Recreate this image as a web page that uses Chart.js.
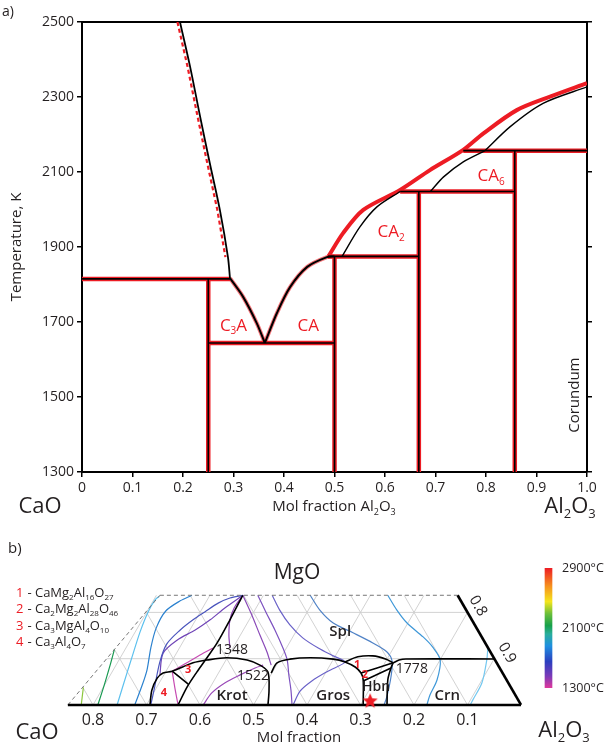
<!DOCTYPE html>
<html>
<head>
<meta charset="utf-8">
<script src="https://cdn.jsdelivr.net/npm/chart.js@4.4.1/dist/chart.umd.min.js"></script>
<style>
  html, body { margin: 0; padding: 0; background: #fff; }
  #wrap { position: relative; width: 610px; height: 744px; overflow: hidden; }
  canvas { position: absolute; }
</style>
</head>
<body>
<div id="wrap">
  <canvas id="phase" width="610" height="530" style="left:0;top:0"></canvas>
  <canvas id="ternary" width="610" height="204" style="left:0;top:540px"></canvas>
  <canvas id="cbar" width="72" height="150" style="left:538px;top:555px"></canvas>
</div>
<script>
const RED = "#ed1c24";
const INK = "#231f20";
const FONT = "'Open Sans', 'Noto Sans', sans-serif";

/* ---------------- panel a: CaO - Al2O3 phase diagram ---------------- */

const T_TICKS = [1300, 1500, 1700, 1900, 2100, 2300, 2500];

const LIQ_CAO_X = [0.194, 0.214, 0.234, 0.253, 0.273, 0.289, 0.293];
const LIQ_CAO_T = [2500, 2381, 2247, 2124, 1999, 1873, 1817];
const LIQ_CAO_RED_X = [0.189, 0.209, 0.229, 0.248, 0.268, 0.284];
const LIQ_CAO_RED_T = [2500, 2381, 2247, 2124, 1999, 1873];
const LIQ_C3A_X = [0.293, 0.319, 0.346, 0.362];
const LIQ_C3A_T = [1817, 1767, 1697, 1644];
const LIQ_CA_X = [0.362, 0.386, 0.412, 0.446, 0.485, 0.5];
const LIQ_CA_T = [1644, 1724, 1793, 1847, 1873, 1875];
const LIQ_CA2_X = [0.515, 0.550, 0.584, 0.630];
const LIQ_CA2_T = [1875, 1953, 2007, 2048];
const LIQ_CA6_X = [0.690, 0.716, 0.755, 0.798];
const LIQ_CA6_T = [2048, 2087, 2127, 2157];
const LIQ_CRN_X = [0.798, 0.848, 0.913, 1.0];
const LIQ_CRN_T = [2157, 2221, 2283, 2327];
const LIQ_RED_X = [0.488, 0.517, 0.557, 0.630, 0.689, 0.755, 0.795, 0.861, 0.927, 1.0];
const LIQ_RED_T = [1875, 1937, 1999, 2052, 2105, 2159, 2203, 2265, 2301, 2337];

// invariant (horizontal) lines and stoichiometric compounds (vertical lines)
const INV_T = [1815, 1644, 1875, 2048, 2157];
const INV_X0 = [0, 0.25, 0.487, 0.630, 0.755];
const INV_X1 = [0.293, 0.5, 0.667, 0.857, 1.0];
const COMP_X = [0.25, 0.5, 0.667, 0.857];
const COMP_TOP = [1815, 1875, 2048, 2157];

const PHASE_NAMES = ["C_3A", "CA", "CA_2", "CA_6"];
const PHASE_X = [0.300, 0.448, 0.612, 0.810];
const PHASE_T = [1690, 1690, 1940, 2089];

/* ---------------- panel b: CaO - MgO - Al2O3 section ---------------- */
// points are [CaO-axis position (c + m/2), MgO fraction m]

const TERN_TICKS = [0.8, 0.7, 0.6, 0.5, 0.4, 0.3, 0.2, 0.1];
const GRID_STEPS = [0.1, 0.2, 0.3, 0.4, 0.5, 0.6, 0.7, 0.8];
const GRID_LEVELS = [0.1, 0.2];
const M_TOP = 0.237;
const LEFT_X0 = 0.847;
const LEFT_X1 = 0.675;

const ISO_LGREEN = [[0.822, 0], [0.818, 0.038]];
const ISO_GREEN = [[0.791, 0], [0.779, 0.043], [0.768, 0.086], [0.760, 0.120]];
const ISO_SKY = [[0.755, 0], [0.736, 0.071], [0.727, 0.104], [0.712, 0.158], [0.697, 0.201], [0.684, 0.227], [0.676, 0.235]];
const ISO_BLUE = [[0.722, 0], [0.708, 0.043], [0.699, 0.076], [0.692, 0.123], [0.682, 0.166], [0.664, 0.203], [0.637, 0.225], [0.615, 0.237]];
const ISO_INDIGO = [[0.692, 0], [0.686, 0.032], [0.675, 0.093], [0.662, 0.132], [0.637, 0.162], [0.613, 0.184], [0.591, 0.201], [0.566, 0.220], [0.544, 0.231], [0.520, 0.237]];
const ISO_VIOLET = [[0.675, 0.065], [0.669, 0.112], [0.643, 0.140], [0.609, 0.162], [0.581, 0.184], [0.553, 0.210], [0.520, 0.237]];
const ISO_MAG_A = [[0.652, 0.073], [0.647, 0.037], [0.641, 0]];
const ISO_MAG_B = [[0.652, 0.073], [0.628, 0.089], [0.600, 0.108], [0.576, 0.123]];
const ISO_PURPLE_A = [[0.520, 0.237], [0.536, 0.210], [0.544, 0.184], [0.546, 0.151], [0.544, 0.123]];
const ISO_PURPLE_K = [[0.594, 0], [0.578, 0.026], [0.553, 0.048], [0.525, 0.065], [0.497, 0.080], [0.482, 0.086]];
const ISO_PURPLE_B = [[0.520, 0.237], [0.503, 0.194], [0.488, 0.151], [0.475, 0.115], [0.467, 0.086]];
const ISO_PURPLE_C = [[0.492, 0.237], [0.477, 0.201], [0.460, 0.162], [0.445, 0.123], [0.437, 0.097], [0.434, 0.065], [0.430, 0.032], [0.428, 0]];
const ISO_BVIOLET = [[0.465, 0.237], [0.451, 0.205], [0.432, 0.173], [0.408, 0.145], [0.379, 0.123], [0.351, 0.106], [0.329, 0.093], [0.361, 0.073], [0.391, 0.052], [0.413, 0.030], [0.426, 0]];
const ISO_STEEL = [[0.394, 0.237], [0.376, 0.205], [0.351, 0.177], [0.314, 0.156], [0.277, 0.134], [0.251, 0.115], [0.241, 0.095], [0.243, 0.061], [0.251, 0.017], [0.256, 0]];
const ISO_LBLUE = [[0.249, 0.237], [0.232, 0.205], [0.213, 0.177], [0.183, 0.147], [0.165, 0.125], [0.151, 0.097], [0.157, 0.054], [0.170, 0.022], [0.176, 0]];
const ISO_CYAN = [[0.062, 0.123], [0.064, 0.097], [0.073, 0.048], [0.090, 0.011], [0.095, 0]];

const B_KROT = [[0.6935, 0], [0.690, 0.032], [0.680, 0.058], [0.669, 0.069], [0.652, 0.073], [0.613, 0.091], [0.587, 0.097], [0.550, 0.102], [0.512, 0.097], [0.488, 0.086], [0.473, 0.071], [0.471, 0.032], [0.473, 0]];
const B_STEEP = [[0.641, 0], [0.624, 0.039], [0.606, 0.071], [0.587, 0.102], [0.568, 0.134], [0.544, 0.184], [0.520, 0.237]];
const B_C3 = [[0.652, 0.073], [0.622, 0.045]];
const B_GROS = [[0.467, 0.069], [0.456, 0.091], [0.432, 0.099], [0.394, 0.102], [0.351, 0.099], [0.329, 0.093], [0.310, 0.082], [0.299, 0.069], [0.295, 0.054], [0.295, 0]];
const B_R1 = [[0.329, 0.093], [0.305, 0.104], [0.277, 0.106], [0.252, 0.099], [0.239, 0.091]];
const B_12 = [[0.299, 0.069], [0.239, 0.091]];
const B_2H = [[0.295, 0.052], [0.243, 0.080]];
const B_HBN = [[0.239, 0.091], [0.243, 0.080], [0.249, 0.054], [0.2505, 0]];
const B_1778 = [[0.239, 0.091], [0.228, 0.097], [0.215, 0.0994], [0.0497, 0.0994]];

const STAR = [[0.282, 0.008]];

const CBAR_MIN = 1300;
const CBAR_MAX = 2900;
const CBAR_TICKS = [1300, 2100, 2900];

/* ---------------- helpers ---------------- */

function xyLine(xs, ys, color, width, order, extra) {
  return Object.assign({
    data: xs.map((x, i) => ({ x, y: ys[i] })),
    showLine: true, borderColor: color, borderWidth: width,
    pointRadius: 0, pointHoverRadius: 0, fill: false, tension: 0, order
  }, extra || {});
}

function pairLine(pts, color, width, order, extra) {
  return xyLine(pts.map(p => p[0]), pts.map(p => p[1]), color, width, order, extra);
}

function richParts(str) {
  const parts = [];
  str.split(/(_\d+)/).forEach(s => {
    if (!s) return;
    if (s[0] === "_") parts.push([s.slice(1), true]);
    else parts.push([s, false]);
  });
  return parts;
}

function drawRich(ctx, item, x, y) {
  const size = item.size || 14;
  const subSize = Math.round(size * 0.6);
  const weight = item.weight || "normal";
  const font = s => `${weight} ${s}px ${FONT}`;
  const parts = richParts(item.t);
  let w = 0;
  parts.forEach(([s, sub]) => { ctx.font = font(sub ? subSize : size); w += ctx.measureText(s).width; });
  ctx.save();
  ctx.translate(x, y);
  if (item.rot) ctx.rotate(item.rot * Math.PI / 180);
  const align = item.align || "center";
  let cx = align === "left" ? 0 : align === "right" ? -w : -w / 2;
  ctx.textAlign = "left";
  ctx.textBaseline = "middle";
  ctx.fillStyle = item.color || INK;
  parts.forEach(([s, sub]) => {
    ctx.font = font(sub ? subSize : size);
    ctx.fillText(s, cx, sub ? size * 0.34 : 0);
    cx += ctx.measureText(s).width;
  });
  ctx.restore();
}

// items with data:true are placed through the chart scales, the rest in canvas pixels
function textPlugin(id, items) {
  return {
    id,
    afterDraw(chart) {
      const { ctx, scales } = chart;
      items.forEach(it => {
        const x = it.data ? scales.x.getPixelForValue(it.x) : it.x;
        const y = it.data ? scales.y.getPixelForValue(it.y) : it.y;
        drawRich(ctx, it, x, y);
      });
    }
  };
}

function starImage(r, color) {
  const c = document.createElement("canvas");
  c.width = c.height = 2 * r + 2;
  const g = c.getContext("2d");
  g.fillStyle = color;
  g.beginPath();
  for (let i = 0; i < 10; i++) {
    const a = -Math.PI / 2 + i * Math.PI / 5;
    const rr = i % 2 ? r * 0.45 : r;
    g.lineTo(r + 1 + rr * Math.cos(a), r + 1 + rr * Math.sin(a));
  }
  g.closePath();
  g.fill();
  return c;
}

const tickFont = size => ({ family: FONT, size });
const fixedTicks = list => axis => { axis.ticks = list.map(v => ({ value: v })); };

/* ---------------- chart a ---------------- */

const phaseSets = [];
INV_T.forEach((t, i) => {
  phaseSets.push(xyLine([INV_X0[i], INV_X1[i]], [t, t], RED, 4.5, 3));
  phaseSets.push(xyLine([INV_X0[i], INV_X1[i]], [t, t], "#000", 1.6, 1));
});
COMP_X.forEach((x, i) => {
  phaseSets.push(xyLine([x, x], [1300, COMP_TOP[i]], RED, 4.5, 3));
  phaseSets.push(xyLine([x, x], [1300, COMP_TOP[i]], "#000", 1.6, 1));
});
phaseSets.push(xyLine(LIQ_CAO_RED_X, LIQ_CAO_RED_T, RED, 2.2, 2, { borderDash: [4, 3] }));
phaseSets.push(xyLine(LIQ_CAO_X, LIQ_CAO_T, "#000", 1.8, 1, { tension: 0.3 }));
phaseSets.push(xyLine(LIQ_C3A_X, LIQ_C3A_T, "rgba(237,28,36,0.6)", 4, 2, { tension: 0.3 }));
phaseSets.push(xyLine(LIQ_C3A_X, LIQ_C3A_T, "#000", 2, 1, { tension: 0.3 }));
phaseSets.push(xyLine(LIQ_CA_X, LIQ_CA_T, "rgba(237,28,36,0.6)", 4, 2, { tension: 0.3 }));
phaseSets.push(xyLine(LIQ_CA_X, LIQ_CA_T, "#000", 2, 1, { tension: 0.3 }));
phaseSets.push(xyLine(LIQ_RED_X, LIQ_RED_T, RED, 4, 2, { tension: 0.3 }));
phaseSets.push(xyLine(LIQ_CA2_X, LIQ_CA2_T, "#000", 1.4, 1, { tension: 0.3 }));
phaseSets.push(xyLine(LIQ_CA6_X, LIQ_CA6_T, "#000", 1.4, 1, { tension: 0.3 }));
phaseSets.push(xyLine(LIQ_CRN_X, LIQ_CRN_T, "#000", 1.4, 1, { tension: 0.3 }));

const phaseText = PHASE_NAMES.map((t, i) => ({ t, x: PHASE_X[i], y: PHASE_T[i], data: true, color: RED, size: 17 }))
  .concat([
    { t: "Corundum", x: 0.976, y: 1505, data: true, rot: -90, size: 15 },
    { t: "a)", x: 2, y: 12, align: "left", size: 14 },
    { t: "Temperature, K", x: 17, y: 247, rot: -90, size: 15 },
    { t: "CaO", x: 40, y: 507, size: 22 },
    { t: "Mol fraction Al_2O_3", x: 334, y: 507, size: 15 },
    { t: "Al_2O_3", x: 570, y: 507, size: 22 }
  ]);

const axisGrid = { drawOnChartArea: false, drawTicks: true, tickLength: 5, color: "#000", lineWidth: 1.5 };
const axisBorder = { color: "#000", width: 2 };

new Chart(document.getElementById("phase"), {
  type: "scatter",
  data: { datasets: phaseSets },
  options: {
    responsive: false, animation: false, events: [],
    layout: { padding: { top: 22, left: 0, right: 0, bottom: 0 } },
    plugins: { legend: { display: false }, tooltip: { enabled: false } },
    scales: {
      x: {
        type: "linear", min: 0, max: 1,
        ticks: { stepSize: 0.1, padding: 3, color: INK, font: tickFont(14), callback: v => (v === 0 ? "0" : Number(v).toFixed(1)) },
        grid: axisGrid, border: axisBorder,
        afterFit: s => { s.height = 58; }
      },
      x2: {
        type: "linear", position: "top", min: 0, max: 1,
        ticks: { display: false }, grid: { display: false, drawTicks: false }, border: axisBorder,
        afterFit: s => { s.height = 0; }
      },
      y: {
        type: "linear", min: 1300, max: 2500,
        afterBuildTicks: fixedTicks(T_TICKS),
        ticks: { padding: 3, color: INK, font: tickFont(14), callback: v => String(v) },
        grid: axisGrid, border: axisBorder,
        afterFit: s => { s.width = 82; }
      },
      y2: {
        type: "linear", position: "right", min: 1300, max: 2500,
        afterBuildTicks: fixedTicks(T_TICKS),
        ticks: { display: false },
        grid: axisGrid, border: axisBorder,
        afterFit: s => { s.width = 23; }
      }
    }
  },
  plugins: [textPlugin("phaseText", phaseText)]
});

/* ---------------- chart b ---------------- */

const leftX = m => LEFT_X0 - m * (LEFT_X0 - LEFT_X1) / M_TOP;
const slopeL = (LEFT_X0 - LEFT_X1) / M_TOP;

const ternSets = [];
const GRID_COLOR = "#cdcdcd";
GRID_STEPS.forEach(v => {
  // constant CaO lines, running up towards MgO
  const mEnd = Math.min(M_TOP, (LEFT_X0 - v) / (slopeL + 0.5));
  ternSets.push(xyLine([v, v + mEnd / 2], [0, mEnd], GRID_COLOR, 0.9, 6));
  // constant Al2O3 lines, running up to the Al2O3 - MgO edge
  const mEnd2 = Math.min(M_TOP, v);
  ternSets.push(xyLine([v, v - mEnd2 / 2], [0, mEnd2], GRID_COLOR, 0.9, 6));
});
GRID_LEVELS.forEach(m => {
  ternSets.push(xyLine([leftX(m), m / 2], [m, m], GRID_COLOR, 0.9, 6));
});

const ISOTHERMS = [
  [ISO_LGREEN, "#8dc63f"], [ISO_GREEN, "#1a9a52"], [ISO_SKY, "#5cc0ee"], [ISO_BLUE, "#2c82cf"],
  [ISO_INDIGO, "#4a55bd"], [ISO_VIOLET, "#7045b7"], [ISO_MAG_A, "#c64bb2"], [ISO_MAG_B, "#c64bb2"],
  [ISO_PURPLE_A, "#8f45b6"], [ISO_PURPLE_K, "#9a4ab8"], [ISO_PURPLE_B, "#8a4ab8"], [ISO_PURPLE_C, "#7d52c0"],
  [ISO_BVIOLET, "#6a62c8"], [ISO_STEEL, "#4f82c6"], [ISO_LBLUE, "#3f98d8"], [ISO_CYAN, "#74c8f0"]
];
ISOTHERMS.forEach(([pts, color]) => ternSets.push(pairLine(pts, color, 1.2, 4, { tension: 0.3 })));

[B_KROT, B_STEEP, B_C3, B_GROS, B_R1, B_12, B_2H, B_HBN, B_1778].forEach(pts =>
  ternSets.push(pairLine(pts, "#000", 1.6, 2, { tension: 0.3 })));

ternSets.push(xyLine([LEFT_X0, 0], [0, 0], "#000", 2.6, 1));
ternSets.push(xyLine([0, M_TOP / 2], [0, M_TOP], "#000", 2.6, 1));
ternSets.push(xyLine([LEFT_X1, M_TOP / 2], [M_TOP, M_TOP], "#777", 1, 1, { borderDash: [4, 3] }));
ternSets.push(xyLine([LEFT_X0, LEFT_X1], [0, M_TOP], "#777", 1, 1, { borderDash: [4, 3] }));
ternSets.push({
  data: STAR.map(p => ({ x: p[0], y: p[1] })), showLine: false,
  pointStyle: starImage(8, RED), pointRadius: 8, pointHoverRadius: 8, order: 0
});

const ternText = [
  { t: "b)", x: 8, y: 9, align: "left", size: 15 },
  { t: "MgO", x: 297, y: 33, size: 21 },
  { t: "1", x: 16, y: 53, align: "left", size: 13, color: RED },
  { t: "2", x: 16, y: 69, align: "left", size: 13, color: RED },
  { t: "3", x: 16, y: 86, align: "left", size: 13, color: RED },
  { t: "4", x: 16, y: 102, align: "left", size: 13, color: RED },
  { t: " - CaMg_2Al_16O_27", x: 24, y: 53, align: "left", size: 13 },
  { t: " - Ca_2Mg_2Al_28O_46", x: 24, y: 69, align: "left", size: 13 },
  { t: " - Ca_3MgAl_4O_10", x: 24, y: 86, align: "left", size: 13 },
  { t: " - Ca_3Al_4O_7", x: 24, y: 102, align: "left", size: 13 },
  { t: "0.8", x: 478, y: 66, rot: 60, size: 15 },
  { t: "0.9", x: 507, y: 113, rot: 60, size: 15 },
  { t: "CaO", x: 37, y: 193, size: 22 },
  { t: "Mol fraction", x: 299, y: 198, size: 15 },
  { t: "Al_2O_3", x: 564, y: 191, size: 22 },
  { t: "Spl", x: 0.338, y: 0.158, data: true, size: 15, weight: 600 },
  { t: "Krot", x: 0.540, y: 0.021, data: true, size: 15, weight: 600 },
  { t: "Gros", x: 0.351, y: 0.021, data: true, size: 15, weight: 600 },
  { t: "Hbn", x: 0.271, y: 0.039, data: true, size: 14, weight: 600 },
  { t: "Crn", x: 0.138, y: 0.019, data: true, size: 15, weight: 600 },
  { t: "1348", x: 0.540, y: 0.119, data: true, size: 14 },
  { t: "1522", x: 0.501, y: 0.063, data: true, size: 14 },
  { t: "1778", x: 0.204, y: 0.078, data: true, size: 14 },
  { t: "1", x: 0.3065, y: 0.086, data: true, size: 11, weight: "bold", color: RED },
  { t: "2", x: 0.2916, y: 0.065, data: true, size: 11, weight: "bold", color: RED },
  { t: "3", x: 0.6224, y: 0.0756, data: true, size: 11, weight: "bold", color: RED },
  { t: "4", x: 0.6673, y: 0.0259, data: true, size: 11, weight: "bold", color: RED }
];

new Chart(document.getElementById("ternary"), {
  type: "scatter",
  data: { datasets: ternSets },
  options: {
    responsive: false, animation: false, events: [],
    layout: { padding: { top: 49.25, left: 0, right: 80, bottom: 0 } },
    plugins: { legend: { display: false }, tooltip: { enabled: false } },
    scales: {
      x: {
        type: "linear", reverse: true, min: -0.0168, max: 0.8617,
        afterBuildTicks: fixedTicks(TERN_TICKS),
        ticks: { padding: 1, color: INK, font: tickFont(16), callback: v => Number(v).toFixed(1) },
        grid: { display: false, drawTicks: false }, border: { display: false },
        afterFit: s => { s.height = 34.4; }
      },
      y: {
        type: "linear", min: -0.01, max: 0.25,
        ticks: { display: false }, grid: { display: false, drawTicks: false }, border: { display: false },
        afterFit: s => { s.width = 60; }
      }
    }
  },
  plugins: [textPlugin("ternText", ternText)]
});

/* ---------------- colour bar ---------------- */

function barGradient(context) {
  const { chart } = context;
  if (!chart.chartArea) return "#888";
  const y = chart.scales.y;
  const g = chart.ctx.createLinearGradient(0, y.getPixelForValue(CBAR_MIN), 0, y.getPixelForValue(CBAR_MAX));
  g.addColorStop(0, "#e0389c");
  g.addColorStop(0.1, "#7a3ab8");
  g.addColorStop(0.22, "#2b3fbf");
  g.addColorStop(0.35, "#1f8fe0");
  g.addColorStop(0.45, "#2aae9c");
  g.addColorStop(0.52, "#17a04a");
  g.addColorStop(0.62, "#6cbf3a");
  g.addColorStop(0.72, "#f4e51c");
  g.addColorStop(0.85, "#f6901e");
  g.addColorStop(1, RED);
  return g;
}

new Chart(document.getElementById("cbar"), {
  type: "bar",
  data: { labels: [""], datasets: [{ data: [[CBAR_MIN, CBAR_MAX]], barThickness: 7, backgroundColor: barGradient, borderWidth: 0 }] },
  options: {
    responsive: false, animation: false, events: [],
    layout: { padding: { top: 13, bottom: 17, left: 0, right: 0 } },
    plugins: { legend: { display: false }, tooltip: { enabled: false } },
    scales: {
      x: { display: false },
      y: {
        position: "right", min: CBAR_MIN, max: CBAR_MAX,
        afterBuildTicks: fixedTicks(CBAR_TICKS),
        ticks: { padding: 3, color: INK, font: tickFont(12.5), callback: v => v + "°C" },
        grid: { display: false, drawTicks: false }, border: { display: false },
        afterFit: s => { s.width = 51; }
      }
    }
  }
});
</script>
</body>
</html>
